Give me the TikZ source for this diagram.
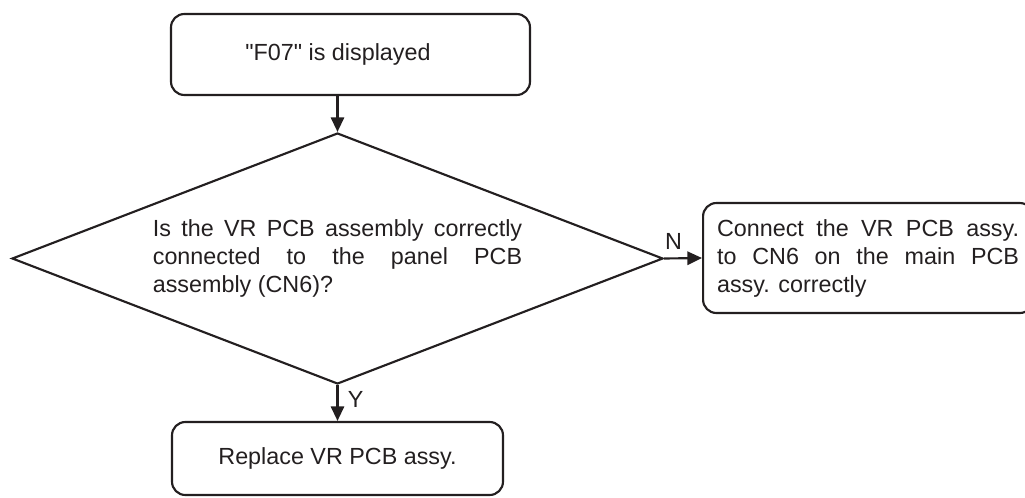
\documentclass[tikz,border=0pt]{standalone}
\usepackage{fontspec}
\setmainfont{Liberation Sans}[Ligatures=TeXOff]
\usetikzlibrary{shapes.geometric, arrows.meta}
\definecolor{ink}{HTML}{231F20}
\begin{document}
\begin{tikzpicture}[x=0.75pt, y=-0.75pt,
  every node/.style={font=\fontsize{17.5}{21}\selectfont, text=ink},
  box/.style={rectangle, rounded corners=10pt, draw=ink, line width=1.6pt, align=center},
  decision/.style={diamond, draw=ink, line width=1.6pt, shape aspect=2.6, inner sep=0pt, minimum width=488.25pt, minimum height=188.25pt, text width=277pt, align=justify},
  flow/.style={draw=ink, line width=1.6pt, -{Triangle[length=11pt, width=10pt]}},
]
\useasboundingbox (0,0) rectangle (1025,497);
\node[box, minimum width=269.25pt, minimum height=60.75pt] (start) at (350.5,54.5) {};
\node (starttext) at (338,54.5) {"F07" is displayed};
\node[decision] (check) at (337.5,258.5) {Is the VR PCB assembly correctly\linebreak connected to the panel PCB\linebreak assembly (CN6)?};
\node[box, anchor=west, align=justify, text width=226.5pt, inner xsep=10.5pt, minimum height=82.5pt] (connect) at (702,258) {Connect the VR PCB assy.\linebreak to CN6 on the main PCB\linebreak assy. correctly};
\node[box, minimum width=248.25pt, minimum height=54.75pt] (replace) at (337.5,458.5) {Replace VR PCB assy.};
\draw[flow] (check.north |- start.south) -- (check.north);
\draw[flow] (check.east) -- node[pos=0.25, above, inner sep=0pt, yshift=6pt] (no) {N} (connect.west);
\draw[flow] (check.south) -- node[pos=0.4, right, inner sep=0pt, xshift=7pt] (yes) {Y} (replace.north);
\end{tikzpicture}
\end{document}
